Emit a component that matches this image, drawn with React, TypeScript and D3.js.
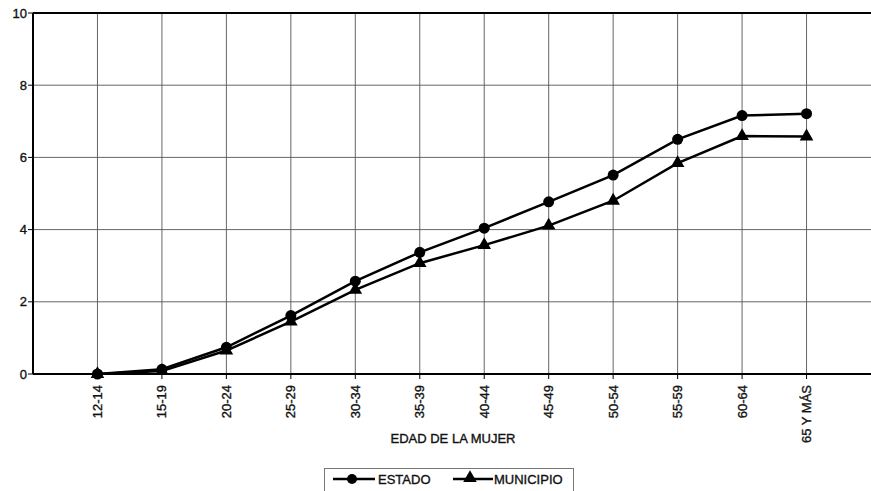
import * as d3 from "d3";

const ageGroups = ["12-14", "15-19", "20-24", "25-29", "30-34", "35-39", "40-44", "45-49", "50-54", "55-59", "60-64", "65 Y MÁS"];
const estado = [0.0, 0.13, 0.74, 1.62, 2.57, 3.37, 4.04, 4.77, 5.51, 6.5, 7.16, 7.21];
const municipio = [0.0, 0.08, 0.65, 1.45, 2.33, 3.07, 3.57, 4.11, 4.8, 5.84, 6.59, 6.58];
const yTicks = [0, 2, 4, 6, 8, 10];

const W = 871;
const H = 491;
const margin = { top: 13, right: 0, bottom: 117, left: 33 };
const font = "'Liberation Sans', Arial, Helvetica, sans-serif";

export default function App() {
  const x = d3
    .scalePoint<string>()
    .domain(ageGroups)
    .range([margin.left, W - margin.right])
    .padding(1);
  const y = d3
    .scaleLinear()
    .domain([0, 10])
    .range([H - margin.bottom, margin.top]);

  const line = d3
    .line<number>()
    .x((_, i) => x(ageGroups[i])!)
    .y((d) => y(d));

  const tri = d3.symbol(d3.symbolTriangle, 80)()!;
  const x0 = margin.left;
  const x1 = W - margin.right;
  const yBase = y(0);
  // scanned text looks a bit heavier than plain regular
  const txt = { fontSize: 13, fill: "#111", stroke: "#111", strokeWidth: 0.35 };

  return (
    <svg
      width={W}
      height={H}
      style={{ position: "absolute", left: 0, top: 0, background: "#fff" }}
      fontFamily={font}
    >
      {/* grid */}
      {yTicks
        .filter((t) => t > 0 && t < 10)
        .map((t) => (
          <line key={"h" + t} x1={x0} x2={x1} y1={y(t)} y2={y(t)} stroke="#555" strokeWidth={0.9} />
        ))}
      {ageGroups.map((g) => (
        <line key={"v" + g} x1={x(g)} x2={x(g)} y1={y(10)} y2={yBase} stroke="#555" strokeWidth={0.9} />
      ))}

      {/* frame */}
      <line x1={x0} x2={x1} y1={y(10)} y2={y(10)} stroke="#000" strokeWidth={2} />
      <line x1={x0} x2={x0} y1={y(10)} y2={yBase} stroke="#000" strokeWidth={2} />
      <line x1={x0} x2={x1} y1={yBase} y2={yBase} stroke="#000" strokeWidth={2} />

      {/* y ticks */}
      {yTicks.map((t) => (
        <g key={"yt" + t}>
          <line x1={x0 - 5} x2={x0} y1={y(t)} y2={y(t)} stroke="#000" strokeWidth={1} />
          <text x={x0 - 6} y={y(t)} dy="0.35em" textAnchor="end" {...txt}>
            {t}
          </text>
        </g>
      ))}

      {/* x ticks */}
      {ageGroups.map((g) => (
        <g key={"xt" + g}>
          <line x1={x(g)} x2={x(g)} y1={yBase} y2={yBase + 5} stroke="#000" strokeWidth={1} />
          <text
            transform={`translate(${x(g)! + 4.5},${yBase + 11}) rotate(-90)`}
            textAnchor="end"
            {...txt}
          >
            {g}
          </text>
        </g>
      ))}

      <text x={453} y={443} textAnchor="middle" {...txt}>
        EDAD DE LA MUJER
      </text>

      {/* series */}
      <path d={line(municipio)!} fill="none" stroke="#000" strokeWidth={2.5} />
      <path d={line(estado)!} fill="none" stroke="#000" strokeWidth={2.5} />
      {estado.map((v, i) => (
        <circle key={"c" + i} cx={x(ageGroups[i])} cy={y(v)} r={5.5} fill="#000" />
      ))}
      {municipio.map((v, i) => (
        <path key={"t" + i} d={tri} transform={`translate(${x(ageGroups[i])},${y(v)})`} fill="#000" />
      ))}

      {/* legend */}
      <rect x={324.5} y={468.5} width={249} height={24} fill="#fff" stroke="#777" strokeWidth={1} />
      <line x1={333} x2={375} y1={479} y2={479} stroke="#000" strokeWidth={2.5} />
      <circle cx={352} cy={479} r={5} fill="#000" />
      <text x={378} y={479} dy="0.35em" {...txt}>
        ESTADO
      </text>
      <line x1={453} x2={493} y1={479} y2={479} stroke="#000" strokeWidth={2.5} />
      <path d={tri} transform="translate(470,478)" fill="#000" />
      <text x={494} y={479} dy="0.35em" {...txt}>
        MUNICIPIO
      </text>
    </svg>
  );
}
